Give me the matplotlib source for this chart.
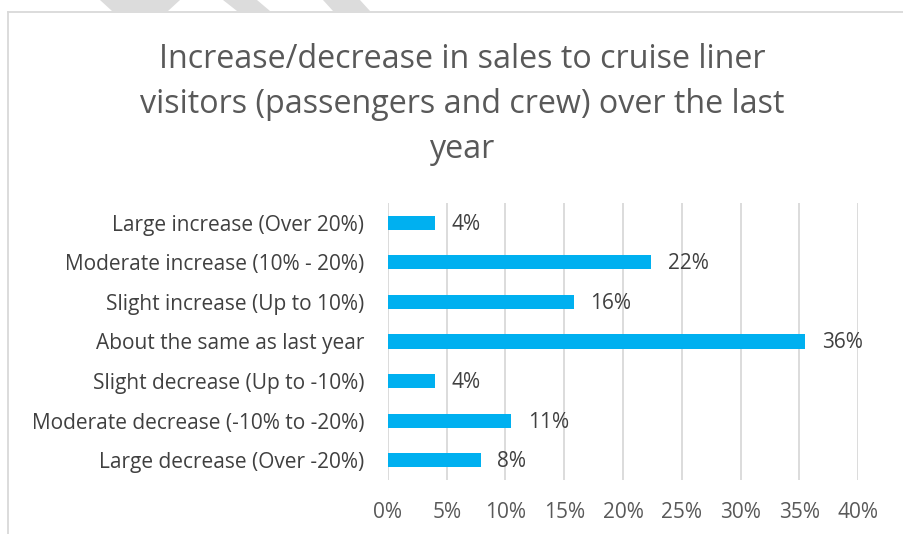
import matplotlib
matplotlib.use("Agg")
import matplotlib.pyplot as plt
from matplotlib.patches import Polygon
from matplotlib.lines import Line2D

categories = [
    "Large increase (Over 20%)",
    "Moderate increase (10% - 20%)",
    "Slight increase (Up to 10%)",
    "About the same as last year",
    "Slight decrease (Up to -10%)",
    "Moderate decrease (-10% to -20%)",
    "Large decrease (Over -20%)",
]
values = [4.0, 22.4, 15.8, 35.5, 4.0, 10.5, 7.9]
value_labels = ["4%", "22%", "16%", "36%", "4%", "11%", "8%"]
xticks = [0, 5, 10, 15, 20, 25, 30, 35, 40]
xtick_labels = ["0%", "5%", "10%", "15%", "20%", "25%", "30%", "35%", "40%"]
title = "Increase/decrease in sales to cruise liner\nvisitors (passengers and crew) over the last\nyear"

plt.rcParams['font.family'] = ['Open Sans', 'DejaVu Sans']
W, H = 904, 534
fig = plt.figure(figsize=(W / 100, H / 100), dpi=100)

def fx(px):
    return px / W

def fy(py):
    return 1 - py / H

# watermark stripes
stripes = [
    [(100, 0), (180, 0), (168, 11), (112, 11)],
    [(223, 0), (257, 0), (270, 11), (237, 11)],
    [(323, 0), (360, 0), (370, 11), (333, 11)],
]
for s in stripes:
    fig.patches.append(Polygon([(fx(x), fy(y)) for x, y in s], closed=True,
                               transform=fig.transFigure, facecolor="#DCDCDC",
                               edgecolor="none"))
# chart border
fig.lines.append(Line2D([fx(8), 1], [fy(12), fy(12)], transform=fig.transFigure,
                        color="#D9D9D9", lw=1.3))
fig.lines.append(Line2D([fx(8), fx(8)], [fy(12), 0], transform=fig.transFigure,
                        color="#D9D9D9", lw=1.3))

FS = 15
ax = fig.add_axes([fx(388), fy(480), fx(858) - fx(388), fy(203) - fy(480)])
ypos = list(range(len(categories)))
ax.barh(ypos, values, height=0.36, color="#00B0F0", zorder=3)
ax.set_ylim(len(categories) - 0.5, -0.5)
ax.set_xlim(0, 40)
ax.set_yticks(ypos)
ax.set_yticklabels(categories, fontsize=FS, color="#404040")
ax.set_xticks(xticks)
ax.set_xticklabels(xtick_labels, fontsize=FS, color="#595959")
ax.tick_params(axis="y", length=0, pad=17)
ax.tick_params(axis="x", length=0, pad=16)
ax.grid(axis="x", color="#D9D9D9", lw=1.3, zorder=0)
for sp in ax.spines.values():
    sp.set_visible(False)

for y, v, lab in zip(ypos, values, value_labels):
    ax.annotate(lab, (v, y), xytext=(12, -1), textcoords="offset points",
                va="center", ha="left", fontsize=FS, color="#404040")

fig.text(fx(462), fy(43), title, ha="center", va="top", fontsize=23.2,
         color="#595959", linespacing=1.47)

fig.savefig("out.png", dpi=100)
